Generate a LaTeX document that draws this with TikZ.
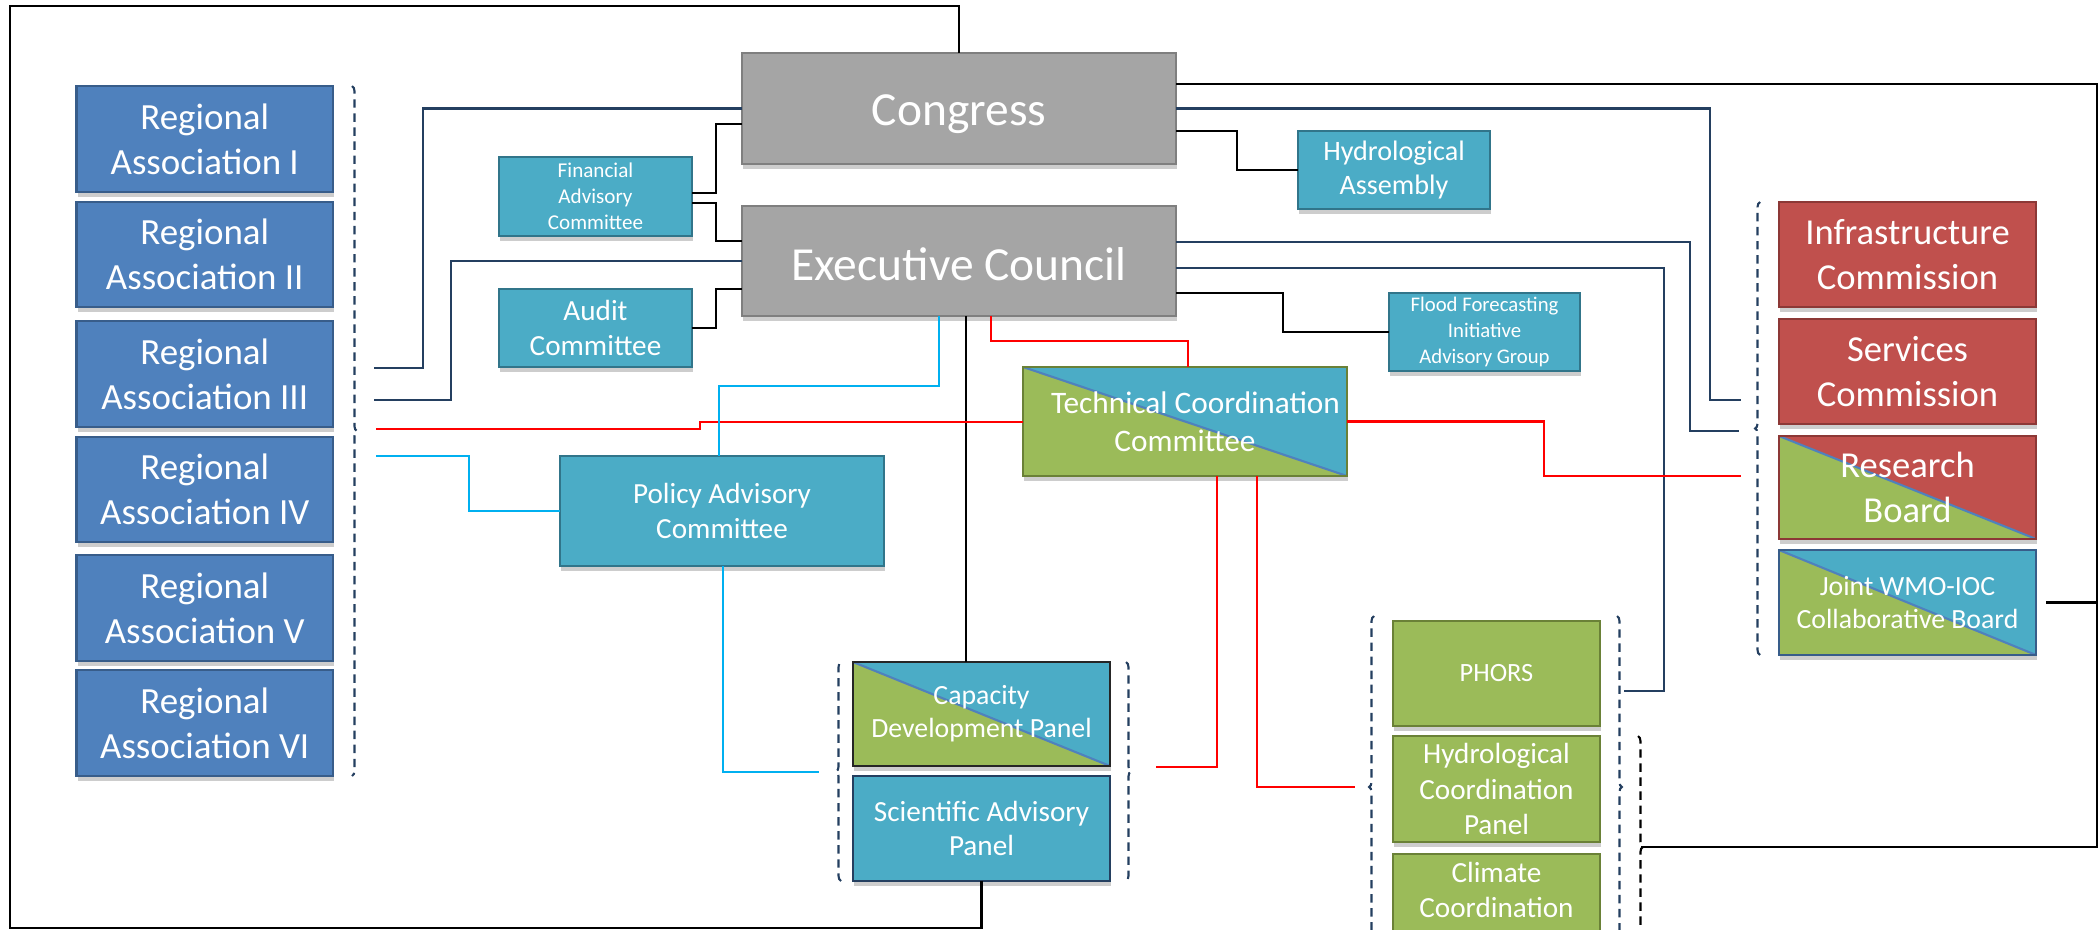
\documentclass[tikz,border=0pt]{standalone}
\usepackage{fontspec}
\setmainfont{Carlito}
\usetikzlibrary{calc,shadows,decorations.pathreplacing}
\definecolor{raB}{HTML}{4F81BD}\definecolor{raBd}{HTML}{385D8A}
\definecolor{gry}{HTML}{A5A5A5}\definecolor{gryd}{HTML}{7F7F7F}
\definecolor{cyn}{HTML}{4BACC6}\definecolor{cynd}{HTML}{31758A}
\definecolor{rdb}{HTML}{C0504D}\definecolor{rdbd}{HTML}{8C3836}
\definecolor{grn}{HTML}{9BBB59}\definecolor{grnd}{HTML}{6A8137}
\definecolor{navy}{HTML}{243F60}
\definecolor{diagc}{HTML}{4F81BD}
\definecolor{lblue}{HTML}{00B0F0}
\newcommand\bx[7]{\node[#6, minimum width={(#4-#2)*0.01cm}, minimum height={(#5-#3)*0.01cm}] (#1) at ({(#2+#4)/2},{(#3+#5)/2}) {#7};}
\tikzset{
  base/.style={draw, line width=0.6pt, inner sep=1pt, outer sep=0pt, align=center, text=white,
    drop shadow={shadow xshift=0.3pt, shadow yshift=-1.3pt, opacity=0.28, fill=black!70}},
  rabox/.style={base, fill=raB, draw=raBd, font=\fontsize{10.5}{12.8}\selectfont},
  bigbox/.style={base, fill=gry, draw=gryd, font=\fontsize{13.5}{16}\selectfont},
  cybox/.style={base, fill=cyn, draw=cynd},
  rdbox/.style={base, fill=rdb, draw=rdbd, font=\fontsize{10.4}{12.8}\selectfont},
  grbox/.style={base, fill=grn, draw=grnd},
  split/.style={path picture={\fill[#1] (path picture bounding box.north west) -- (path picture bounding box.north east) -- (path picture bounding box.south east) -- cycle;
     \draw[diagc, line width=0.6pt] (path picture bounding box.north west) -- (path picture bounding box.south east);}},
  fs/.style n args={2}{font=\fontsize{#1}{#2}\selectfont},
  blk/.style={line width=0.8pt, black},
  dkb/.style={line width=0.7pt, navy},
  rdl/.style={line width=0.7pt, red},
  cyl/.style={line width=0.7pt, lblue},
  brc/.style={line width=0.6pt, navy, dash pattern=on 2.4pt off 1.6pt, decorate, decoration={brace, amplitude=1.4pt, aspect=0.5}},
  txt/.style={text=white, align=center, inner sep=0pt}
}
\begin{document}
\begin{tikzpicture}[x=0.01cm, y=-0.01cm]
\useasboundingbox (0,0) rectangle (2099,930);
\clip (0,0) rectangle (2099,930);
% Regional associations
\bx{ra1}{76.5}{86}{333}{192}{rabox}{Regional\\Association I}
\bx{ra2}{76.5}{202}{333}{307}{rabox}{Regional\\Association II}
\bx{ra3}{76.5}{321}{333}{427}{rabox}{Regional\\Association III}
\bx{ra4}{76.5}{437}{333}{542}{rabox}{Regional\\Association IV}
\bx{ra5}{76.5}{555}{333}{661}{rabox}{Regional\\Association V}
\bx{ra6}{76.5}{670}{333}{776}{rabox}{Regional\\Association VI}
% governing bodies
\bx{cong}{742}{53}{1176}{164}{bigbox,text height=12.5pt,text depth=2.8pt}{Congress}
\bx{ec}{742}{206}{1176}{316}{bigbox,text height=11pt,text depth=0pt}{Executive Council}
\bx{fac}{499}{157}{692}{236}{cybox,fs={6}{7.4}}{Financial\\Advisory\\Committee}
\bx{aud}{499}{289}{692}{367}{cybox,fs={8.3}{10}}{Audit\\Committee}
\bx{ha}{1298}{131}{1490}{209}{cybox,fs={8}{9.8}}{Hydrological\\Assembly}
\bx{ffi}{1389}{293}{1580}{371}{cybox,fs={5.9}{7.4}}{Flood Forecasting\\Initiative\\Advisory Group}
\bx{tcc}{1023}{367}{1347}{476}{grbox,split=cyn,fs={8.9}{10.8}}{\hspace*{6pt}Technical Coordination\\Committee}
\bx{pac}{560}{456}{884}{566}{cybox,fs={8.3}{10.1}}{Policy Advisory\\Committee}
\bx{cdp}{853}{662}{1110}{766}{grbox,draw=black!85,split=cyn,fs={7.9}{9.4}}{Capacity\\Development Panel}
\bx{sap}{853}{776}{1110}{881}{cybox,draw=navy,fs={8.3}{9.7}}{Scientific Advisory\\Panel}
% right side
\bx{infc}{1779}{202}{2036}{307}{rdbox}{Infrastructure\\Commission}
\bx{svc}{1779}{319}{2036}{424}{rdbox}{Services\\Commission}
\bx{rsb}{1779}{436}{2036}{539}{grbox,draw=rdbd,split=rdb,font=\fontsize{10.4}{12.8}\selectfont}{Research\\Board}
\bx{jwb}{1779}{550}{2036}{655}{grbox,draw=raBd,split=cyn,fs={7.9}{9.6}}{Joint WMO-IOC\\Collaborative Board}
% panels
\bx{phors}{1393}{621}{1600}{726}{grbox,fs={7.5}{9}}{PHORS}
\bx{hcp}{1393}{736}{1600}{842}{grbox,fs={8.3}{10}}{Hydrological\\Coordination\\Panel}
\bx{ccp}{1393}{854}{1600}{962}{grbox}{}
\node[txt, fs={8.3}{10}] (cct) at (1496.5,890) {Climate\\Coordination};
% braces
\draw[brc] (352,86) -- (352,776);
\draw[brc] (1760,655) -- (1760,202);
\draw[brc] (841,881) -- (841,662);
\draw[brc] (1126,662) -- (1126,881);
\draw[brc] (1374,958) -- (1374,616);
\draw[brc] (1617,616) -- (1617,958);
\draw[brc, black] (1638,736) -- (1638,958);
% free ends
\coordinate (raA) at (374,368);
\coordinate (raB) at (374,400);
\coordinate (raC) at (376,429);
\coordinate (raD) at (376,456);
\coordinate (cdL) at (819,772);
\coordinate (cdR) at (1156,767);
\coordinate (phL) at (1355,787);
\coordinate (phR) at (1624,691);
\coordinate (rcA) at (1741,400);
\coordinate (rcB) at (1739,431);
\coordinate (rcC) at (1741,476);
\coordinate (hcR) at (1641,847);
% black frame
\draw[blk] (sap.south) |- (10,928) -- (10,6) -| (cong.north);
\draw[blk] (cong.east |- 0,84) -- (2097,84) |- (hcR);
\draw[blk] ($(jwb.east)+(10,0)$) -- (jwb.east -| 2097,0);
% black connectors
\draw[blk] (fac.east |- 0,193) -- (716,193) |- (cong.west |- 0,124);
\draw[blk] (fac.east |- 0,203) -- (716,203) |- (ec.west |- 0,241);
\draw[blk] (aud.east) -- (716,328) |- (ec.west |- 0,289);
\draw[blk] (ec.east |- 0,293) -| (1283,332) -- (ffi.west);
\draw[blk] (cong.east |- 0,131) -| (1237,170) -- (ha.west);
\draw[blk] (ec.south -| 966,0) -- (cdp.north -| 966,0);
% dark blue connectors
\draw[dkb] (cong.west) -| (423,368) -- (raA);
\draw[dkb] (ec.west) -| (451,400) -- (raB);
\draw[dkb] (cong.east) -| (1710,400) -- (rcA);
\draw[dkb] (ec.east |- 0,242) -| (1690,431) -- (rcB);
\draw[dkb] (ec.east |- 0,268) -| (1664,691) -- (phR);
% red connectors
\draw[rdl] (raC) -- (700,429) -- (700,422) -- (tcc.west |- 0,422);
\draw[rdl] (ec.south -| 991,0) |- (1188,341) -- (tcc.north -| 1188,0);
\draw[rdl] (tcc.east) -| (1544,476) -- (rcC);
\draw[rdl] (tcc.south -| 1217,0) |- (cdR);
\draw[rdl] (tcc.south -| 1257,0) |- (phL);
% light blue connectors
\draw[cyl] (ec.south -| 939,0) |- (719,386) -- (pac.north -| 719,0);
\draw[cyl] (raD) -| (469,511) -- (pac.west);
\draw[cyl] (pac.south -| 723,0) |- (cdL);
\end{tikzpicture}
\end{document}
